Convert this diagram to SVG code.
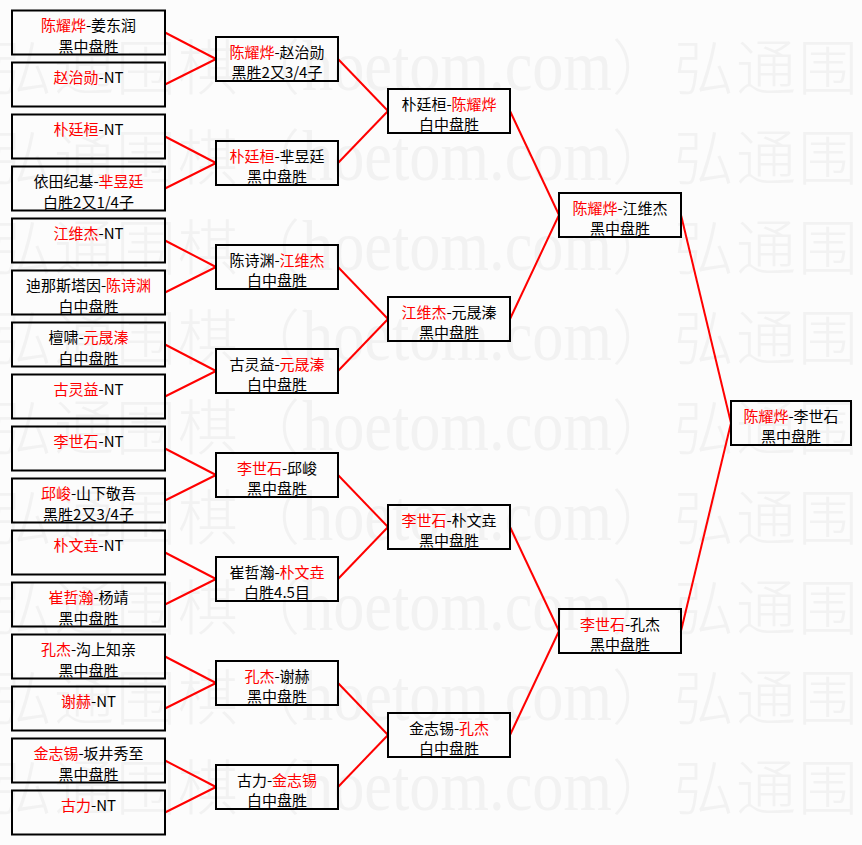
<svg xmlns="http://www.w3.org/2000/svg" width="862" height="845" viewBox="0 0 862 845">
<style>
.bg{fill:#fcfcfc}
.wm{font-family:"Noto Sans CJK SC",sans-serif;font-size:60px;font-weight:300;fill:#f2f2f2}
.wl{font-family:"Liberation Serif","Noto Sans CJK SC",serif;font-size:72px;fill:#f2f2f2}
.box{fill:none;stroke:#000;stroke-width:2}
.t{font-family:"Noto Sans CJK SC",sans-serif;font-size:15px;text-anchor:middle;fill:#000}
.r{fill:#f00}
#connectors line{stroke:#f00;stroke-width:2}
</style>
<defs>
<g id="wmrow">
<text class="wm" x="-8 54 116 178 240" y="0">弘通围棋（</text>
<text class="wl" x="302" y="0" textLength="310" lengthAdjust="spacingAndGlyphs">hoetom.com</text>
<text class="wm" x="612 674 736 798" y="0">）弘通围</text>
</g>
</defs>
<rect class="bg" x="0" y="0" width="862" height="845"/>
<g id="watermark">
<use href="#wmrow" y="90"/>
<use href="#wmrow" y="180"/>
<use href="#wmrow" y="270"/>
<use href="#wmrow" y="360"/>
<use href="#wmrow" y="450"/>
<use href="#wmrow" y="540"/>
<use href="#wmrow" y="630"/>
<use href="#wmrow" y="720"/>
<use href="#wmrow" y="810"/>
</g>
<g id="connectors">
<line x1="165" y1="32.5" x2="216" y2="59"/>
<line x1="165" y1="84.5" x2="216" y2="59"/>
<line x1="165" y1="136.5" x2="216" y2="163"/>
<line x1="165" y1="188.5" x2="216" y2="163"/>
<line x1="165" y1="240.5" x2="216" y2="267"/>
<line x1="165" y1="292.5" x2="216" y2="267"/>
<line x1="165" y1="344.5" x2="216" y2="371"/>
<line x1="165" y1="396.5" x2="216" y2="371"/>
<line x1="165" y1="448.5" x2="216" y2="475"/>
<line x1="165" y1="500.5" x2="216" y2="475"/>
<line x1="165" y1="552.5" x2="216" y2="579"/>
<line x1="165" y1="604.5" x2="216" y2="579"/>
<line x1="165" y1="656.5" x2="216" y2="683"/>
<line x1="165" y1="708.5" x2="216" y2="683"/>
<line x1="165" y1="760.5" x2="216" y2="787"/>
<line x1="165" y1="812.5" x2="216" y2="787"/>
<line x1="338" y1="59" x2="388" y2="111"/>
<line x1="338" y1="163" x2="388" y2="111"/>
<line x1="338" y1="267" x2="388" y2="319"/>
<line x1="338" y1="371" x2="388" y2="319"/>
<line x1="338" y1="475" x2="388" y2="527"/>
<line x1="338" y1="579" x2="388" y2="527"/>
<line x1="338" y1="683" x2="388" y2="735"/>
<line x1="338" y1="787" x2="388" y2="735"/>
<line x1="510" y1="111" x2="559" y2="215"/>
<line x1="510" y1="319" x2="559" y2="215"/>
<line x1="510" y1="527" x2="559" y2="631"/>
<line x1="510" y1="735" x2="559" y2="631"/>
<line x1="681" y1="215" x2="731" y2="423"/>
<line x1="681" y1="631" x2="731" y2="423"/>
</g>
<!-- round 1 -->
<g id="l1"><rect class="box" x="12" y="10.5" width="153" height="44"/><text class="t" x="88.5" y="31"><tspan class="r">陈耀烨</tspan>-姜东润</text><text class="t" x="88.5" y="51.5">黑中盘胜</text></g>
<g id="l2"><rect class="box" x="12" y="62.5" width="153" height="44"/><text class="t" x="88.5" y="83"><tspan class="r">赵治勋</tspan>-NT</text></g>
<g id="l3"><rect class="box" x="12" y="114.5" width="153" height="44"/><text class="t" x="88.5" y="135"><tspan class="r">朴廷桓</tspan>-NT</text></g>
<g id="l4"><rect class="box" x="12" y="166.5" width="153" height="44"/><text class="t" x="88.5" y="187">依田纪基-<tspan class="r">芈昱廷</tspan></text><text class="t" x="88.5" y="207.5">白胜2又1/4子</text></g>
<g id="l5"><rect class="box" x="12" y="218.5" width="153" height="44"/><text class="t" x="88.5" y="239"><tspan class="r">江维杰</tspan>-NT</text></g>
<g id="l6"><rect class="box" x="12" y="270.5" width="153" height="44"/><text class="t" x="88.5" y="291">迪那斯塔因-<tspan class="r">陈诗渊</tspan></text><text class="t" x="88.5" y="311.5">白中盘胜</text></g>
<g id="l7"><rect class="box" x="12" y="322.5" width="153" height="44"/><text class="t" x="88.5" y="343">檀啸-<tspan class="r">元晟溱</tspan></text><text class="t" x="88.5" y="363.5">白中盘胜</text></g>
<g id="l8"><rect class="box" x="12" y="374.5" width="153" height="44"/><text class="t" x="88.5" y="395"><tspan class="r">古灵益</tspan>-NT</text></g>
<g id="l9"><rect class="box" x="12" y="426.5" width="153" height="44"/><text class="t" x="88.5" y="447"><tspan class="r">李世石</tspan>-NT</text></g>
<g id="l10"><rect class="box" x="12" y="478.5" width="153" height="44"/><text class="t" x="88.5" y="499"><tspan class="r">邱峻</tspan>-山下敬吾</text><text class="t" x="88.5" y="519.5">黑胜2又3/4子</text></g>
<g id="l11"><rect class="box" x="12" y="530.5" width="153" height="44"/><text class="t" x="88.5" y="551"><tspan class="r">朴文垚</tspan>-NT</text></g>
<g id="l12"><rect class="box" x="12" y="582.5" width="153" height="44"/><text class="t" x="88.5" y="603"><tspan class="r">崔哲瀚</tspan>-杨靖</text><text class="t" x="88.5" y="623.5">黑中盘胜</text></g>
<g id="l13"><rect class="box" x="12" y="634.5" width="153" height="44"/><text class="t" x="88.5" y="655"><tspan class="r">孔杰</tspan>-沟上知亲</text><text class="t" x="88.5" y="675.5">黑中盘胜</text></g>
<g id="l14"><rect class="box" x="12" y="686.5" width="153" height="44"/><text class="t" x="88.5" y="707"><tspan class="r">谢赫</tspan>-NT</text></g>
<g id="l15"><rect class="box" x="12" y="738.5" width="153" height="44"/><text class="t" x="88.5" y="759"><tspan class="r">金志锡</tspan>-坂井秀至</text><text class="t" x="88.5" y="779.5">黑中盘胜</text></g>
<g id="l16"><rect class="box" x="12" y="790.5" width="153" height="44"/><text class="t" x="88.5" y="811"><tspan class="r">古力</tspan>-NT</text></g>
<!-- round 2 -->
<g id="r2a"><rect class="box" x="216" y="37" width="122" height="44"/><text class="t" x="277" y="57.5"><tspan class="r">陈耀烨</tspan>-赵治勋</text><text class="t" x="277" y="78">黑胜2又3/4子</text></g>
<g id="r2b"><rect class="box" x="216" y="141" width="122" height="44"/><text class="t" x="277" y="161.5"><tspan class="r">朴廷桓</tspan>-芈昱廷</text><text class="t" x="277" y="182">黑中盘胜</text></g>
<g id="r2c"><rect class="box" x="216" y="245" width="122" height="44"/><text class="t" x="277" y="265.5">陈诗渊-<tspan class="r">江维杰</tspan></text><text class="t" x="277" y="286">白中盘胜</text></g>
<g id="r2d"><rect class="box" x="216" y="349" width="122" height="44"/><text class="t" x="277" y="369.5">古灵益-<tspan class="r">元晟溱</tspan></text><text class="t" x="277" y="390">白中盘胜</text></g>
<g id="r2e"><rect class="box" x="216" y="453" width="122" height="44"/><text class="t" x="277" y="473.5"><tspan class="r">李世石</tspan>-邱峻</text><text class="t" x="277" y="494">黑中盘胜</text></g>
<g id="r2f"><rect class="box" x="216" y="557" width="122" height="44"/><text class="t" x="277" y="577.5">崔哲瀚-<tspan class="r">朴文垚</tspan></text><text class="t" x="277" y="598">白胜4.5目</text></g>
<g id="r2g"><rect class="box" x="216" y="661" width="122" height="44"/><text class="t" x="277" y="681.5"><tspan class="r">孔杰</tspan>-谢赫</text><text class="t" x="277" y="702">黑中盘胜</text></g>
<g id="r2h"><rect class="box" x="216" y="765" width="122" height="44"/><text class="t" x="277" y="785.5">古力-<tspan class="r">金志锡</tspan></text><text class="t" x="277" y="806">白中盘胜</text></g>
<!-- round 3 -->
<g id="r3a"><rect class="box" x="388" y="89" width="122" height="44"/><text class="t" x="449" y="109.5">朴廷桓-<tspan class="r">陈耀烨</tspan></text><text class="t" x="449" y="130">白中盘胜</text></g>
<g id="r3b"><rect class="box" x="388" y="297" width="122" height="44"/><text class="t" x="449" y="317.5"><tspan class="r">江维杰</tspan>-元晟溱</text><text class="t" x="449" y="338">黑中盘胜</text></g>
<g id="r3c"><rect class="box" x="388" y="505" width="122" height="44"/><text class="t" x="449" y="525.5"><tspan class="r">李世石</tspan>-朴文垚</text><text class="t" x="449" y="546">黑中盘胜</text></g>
<g id="r3d"><rect class="box" x="388" y="713" width="122" height="44"/><text class="t" x="449" y="733.5">金志锡-<tspan class="r">孔杰</tspan></text><text class="t" x="449" y="754">白中盘胜</text></g>
<!-- round 4 -->
<g id="r4a"><rect class="box" x="559" y="193" width="122" height="44"/><text class="t" x="620" y="213.5"><tspan class="r">陈耀烨</tspan>-江维杰</text><text class="t" x="620" y="234">黑中盘胜</text></g>
<g id="r4b"><rect class="box" x="559" y="609" width="122" height="44"/><text class="t" x="620" y="629.5"><tspan class="r">李世石</tspan>-孔杰</text><text class="t" x="620" y="650">黑中盘胜</text></g>
<!-- final -->
<g id="final"><rect class="box" x="731" y="401" width="120" height="44"/><text class="t" x="791" y="421.5"><tspan class="r">陈耀烨</tspan>-李世石</text><text class="t" x="791" y="442">黑中盘胜</text></g>
</svg>
